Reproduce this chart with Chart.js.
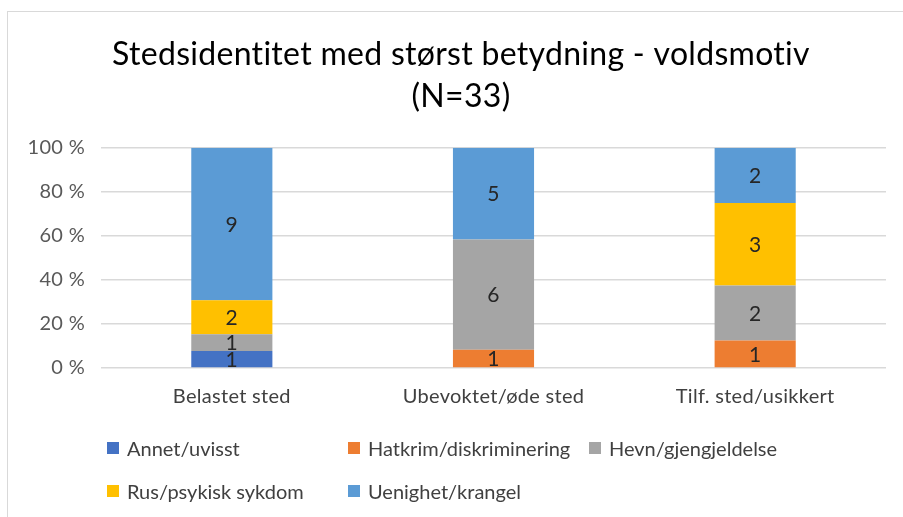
<!DOCTYPE html>
<html>
<head>
<meta charset="utf-8">
<script src="https://cdn.jsdelivr.net/npm/chart.js@4"></script>
<style>
    body { margin: 0; background: #fff; font-family: Lato, "Open Sans", sans-serif; }
    #wrap { position: relative; width: 903px; height: 517px; overflow: hidden; }
    #frame { position: absolute; left: 7px; top: 11px; width: 920px; height: 540px;
             border-left: 1px solid #d9d9d9; border-top: 1px solid #d9d9d9; }
    canvas { position: absolute; left: 0; top: 0; }
    .legend-item { position: absolute; display: flex; align-items: center; font-size: 20px; color: #404040;
                   white-space: nowrap; font-variant-ligatures: none; }
    .legend-item span.box { width: 12px; height: 12px; margin-right: 8px; display: inline-block; }
</style>
</head>
<body>
<div id="wrap">
    <div id="frame"></div>
    <canvas id="chart" width="903" height="517"></canvas>
    <div id="legend"></div>
</div>
<script>
// Data (counts per group)
const categories = ['Belastet sted', 'Ubevoktet/øde sted', 'Tilf. sted/usikkert'];
const seriesNames = ['Annet/uvisst', 'Hatkrim/diskriminering', 'Hevn/gjengjeldelse', 'Rus/psykisk sykdom', 'Uenighet/krangel'];
const annet = [1, 0, 0];
const hatkrim = [0, 1, 1];
const hevn = [1, 6, 2];
const rus = [2, 0, 3];
const uenighet = [9, 5, 2];
const yTicks = [0, 20, 40, 60, 80, 100];

const colors = ['#4472C4', '#ED7D31', '#A5A5A5', '#FFC000', '#5B9BD5'];
const counts = [annet, hatkrim, hevn, rus, uenighet];
const FONT = 'Lato, "Open Sans", sans-serif';

// totals per category, for the 100 % stack
const totals = categories.map((c, i) => counts.reduce((s, arr) => s + arr[i], 0));

const datasets = counts.map((arr, k) => ({
    label: seriesNames[k],
    data: arr.map((v, i) => v / totals[i] * 100),
    counts: arr,
    backgroundColor: colors[k],
    borderWidth: 0,
    barPercentage: 0.31,
    categoryPercentage: 1
}));

// Small letter spacing keeps Lato from using its "ti" ligature,
// and the title is centred over the framed area, not the plot
const tweaks = {
    id: 'tweaks',
    afterLayout(chart) { chart.titleBlock.left = 36; },
    beforeDraw(chart) { chart.ctx.letterSpacing = '0.3px'; }
};

// Draw the count inside each segment
const countLabels = {
    id: 'countLabels',
    afterDatasetsDraw(chart) {
        const ctx = chart.ctx;
        ctx.save();
        ctx.font = '21px ' + FONT;
        ctx.fillStyle = '#262626';
        ctx.textAlign = 'center';
        ctx.textBaseline = 'middle';
        chart.data.datasets.forEach((ds, k) => {
            chart.getDatasetMeta(k).data.forEach((bar, i) => {
                if (!ds.counts[i]) return;
                ctx.fillText(ds.counts[i], bar.x, (bar.y + bar.base) / 2 + 1);
            });
        });
        ctx.restore();
    }
};

const chart = new Chart(document.getElementById('chart'), {
    type: 'bar',
    data: { labels: categories, datasets: datasets },
    options: {
        responsive: false,
        animation: false,
        layout: { padding: { left: 0, right: 17, top: 0, bottom: 0 } },
        plugins: {
            legend: { display: false },
            tooltip: { enabled: false },
            title: {
                display: true,
                text: ['Stedsidentitet med størst betydning - voldsmotiv', '(N=33)'],
                color: '#000',
                font: { family: FONT, size: 32, weight: 'normal', lineHeight: 1.31 },
                padding: { top: 34, bottom: 30 }
            }
        },
        scales: {
            x: {
                stacked: true,
                grid: { display: false },
                border: { display: false },
                ticks: { color: '#404040', font: { size: 20, family: FONT }, padding: 9 },
                afterFit(scale) { scale.height = 149; }
            },
            y: {
                stacked: true,
                min: 0,
                max: 100,
                afterBuildTicks(scale) { scale.ticks = yTicks.map(v => ({ value: v })); },
                grid: { color: '#d9d9d9', lineWidth: 1.5, drawTicks: false },
                border: { display: false },
                ticks: {
                    color: '#595959',
                    font: { size: 20, family: FONT },
                    padding: 16,
                    callback: v => v + ' %'
                },
                afterFit(scale) { scale.width = 101; }
            }
        }
    },
    plugins: [tweaks, countLabels]
});

// Legend laid out in fixed columns like the original
const legendPos = [[107, 448], [348, 448], [589, 448], [107, 491], [348, 491]];
const legend = document.getElementById('legend');
chart.data.datasets.forEach((ds, k) => {
    const item = document.createElement('div');
    item.className = 'legend-item';
    item.style.left = legendPos[k][0] + 'px';
    item.style.top = (legendPos[k][1] - 12) + 'px';
    item.style.height = '24px';
    item.innerHTML = '<span class="box" style="background:' + ds.backgroundColor + '"></span>' + ds.label;
    legend.appendChild(item);
});
</script>
</body>
</html>
